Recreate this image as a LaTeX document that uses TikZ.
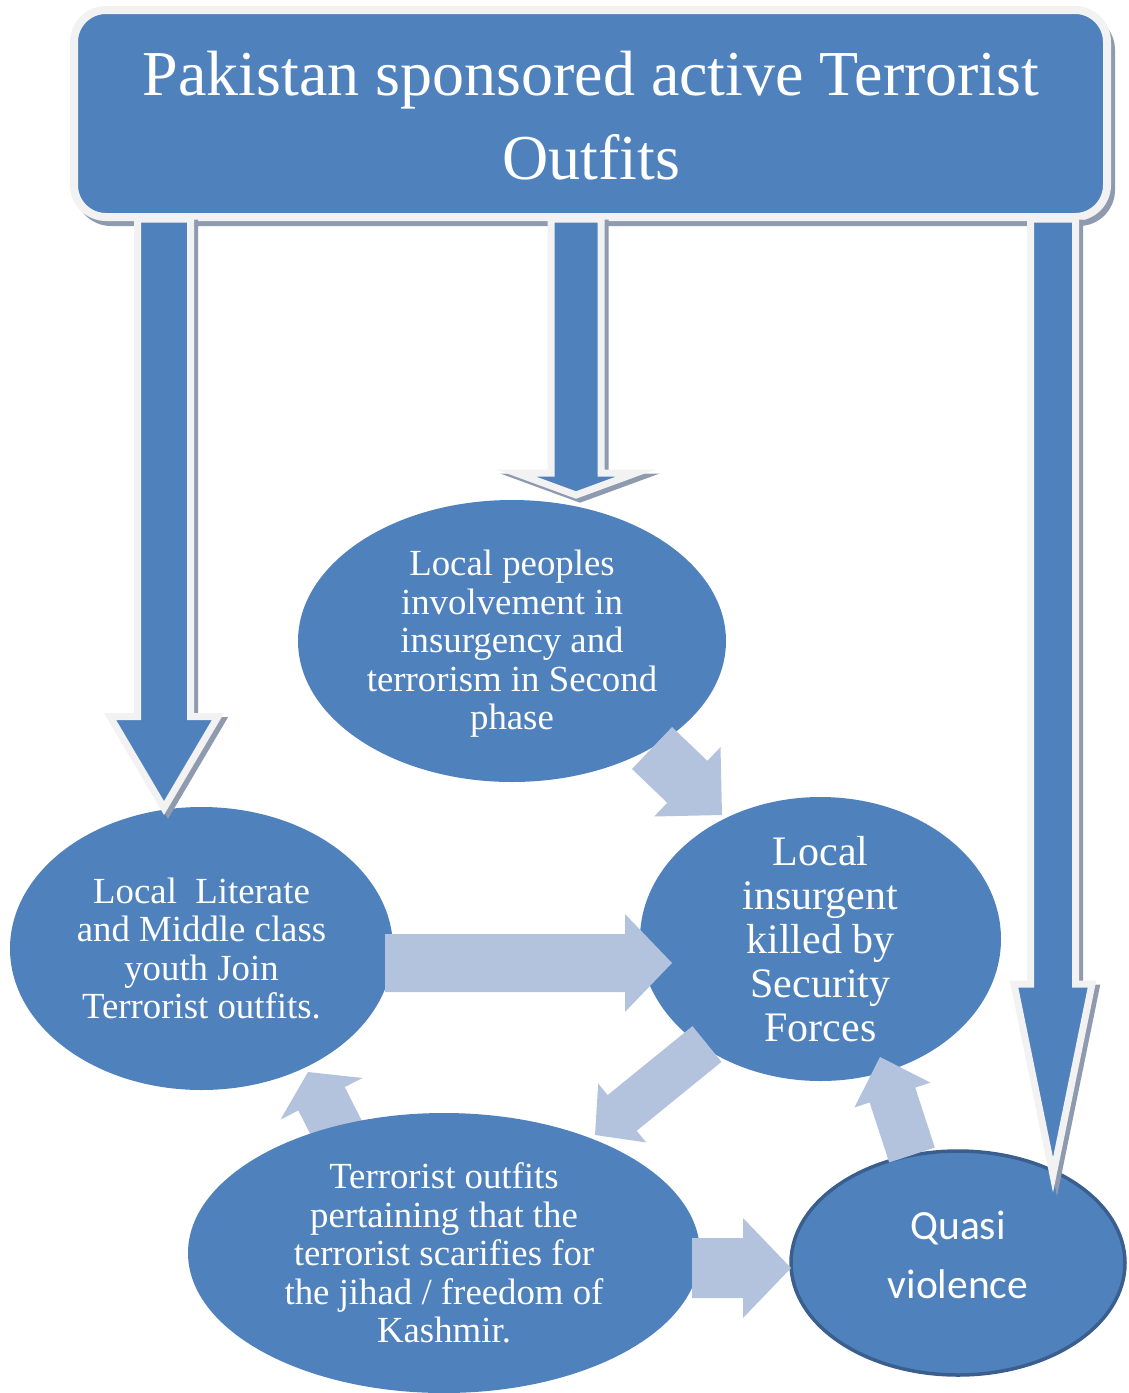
\documentclass[tikz,border=0pt]{standalone}
\usepackage{fontspec}
\setmainfont{Liberation Serif}
\newfontfamily\quasifont{Carlito}
\usetikzlibrary{calc,shapes.geometric}
\definecolor{boxblue}{HTML}{4F81BD}
\definecolor{lightarr}{HTML}{B3C3DE}
\definecolor{rimgray}{HTML}{F2F2F2}
\definecolor{shadowgray}{HTML}{8E9BAE}
\definecolor{darkrim}{HTML}{3A5F8F}
% block arrow: tail, tip, shaft half width, head half width, head length, style
\newcommand{\blockarr}[6]{%
  \coordinate (#2-hb) at ($(#2)!#5!(#1)$);
  \path[#6] ($(#1)!#3!90:(#2)$) -- ($(#2-hb)!#3!90:(#2)$) -- ($(#2-hb)!#4!90:(#2)$)
    -- (#2) -- ($(#2-hb)!#4!-90:(#2)$) -- ($(#2-hb)!#3!-90:(#2)$) -- ($(#1)!#3!-90:(#2)$) -- cycle;
}
\begin{document}
\begin{tikzpicture}[x=1pt,y=-1pt,
  bubble/.style={ellipse, fill=boxblue, draw=none, inner sep=0pt},
  quasibubble/.style={ellipse, fill=boxblue, draw=darkrim, line width=3.5pt, inner sep=0pt},
  ovaltext/.style={text=white, align=center, inner sep=0pt, font=\fontsize{36.8}{38.5}\selectfont},
  bigovaltext/.style={text=white, align=center, inner sep=0pt, font=\fontsize{42}{44}\selectfont},
  quasitext/.style={text=white, align=center, inner sep=0pt, font=\quasifont\fontsize{41.5}{59}\selectfont},
  titlebox/.style={rectangle, rounded corners=32pt, fill=boxblue, draw=rimgray, line width=8pt, inner sep=0pt},
  boxshadow/.style={fill=shadowgray, rounded corners=36pt},
  titletext/.style={text=white, align=center, inner sep=0pt, font=\fontsize{64}{84}\selectfont},
  bigarrow/.style={fill=boxblue, draw=rimgray, line width=7pt, line join=miter},
  bigshadow/.style={fill=shadowgray, draw=shadowgray, line width=7pt, line join=miter},
  lightarrow/.style={fill=lightarr, draw=none}
]
\useasboundingbox (0,0) rectangle (1128,1393);

% arrow from the bottom ellipse back to the left one (its tail lies under the ellipse)
\coordinate (ea) at (348,1151);  \coordinate (eb) at (308,1072);
\blockarr{ea}{eb}{26pt}{46pt}{30pt}{lightarrow}

% ellipses
\node[bubble, minimum width=428pt, minimum height=282pt] (e1) at (512,641) {};
\node[bubble, minimum width=383pt, minimum height=283pt] (e2) at (201.5,948.5) {};
\node[bubble, minimum width=361pt, minimum height=284pt] (e3) at (820.5,939) {};
\node[bubble, minimum width=512pt, minimum height=280pt] (e4) at (444,1253) {};
\node[quasibubble, minimum width=334pt, minimum height=224pt] (e5) at (958,1263) {};

% title box with its shadow
\fill[boxshadow] (75,14) rectangle (1115,226);
\node[titlebox, minimum width=1033pt, minimum height=207pt] (title) at (590.5,113.5) {};

% big arrows from the title box
\coordinate (La) at (164,219);
\coordinate (Lb) at (164,808);
\coordinate (Ma) at (576,219);
\coordinate (Mb) at (576,495);
\coordinate (Ra) at (1053,219);
\coordinate (Rb) at (1053,1175);
\begin{scope}[transform canvas={shift={(4pt,-4pt)}}]
  \blockarr{La}{Lb}{26.5pt}{54pt}{91.5pt}{bigshadow}
  \blockarr{Ma}{Mb}{25pt}{60pt}{22pt}{bigshadow}
  \blockarr{Ra}{Rb}{22.5pt}{39pt}{191pt}{bigshadow}
\end{scope}
\blockarr{La}{Lb}{26.5pt}{54pt}{91.5pt}{bigarrow}
\blockarr{Ma}{Mb}{25pt}{60pt}{22pt}{bigarrow}
\blockarr{Ra}{Rb}{22.5pt}{39pt}{191pt}{bigarrow}

% light arrows between ellipses
\coordinate (aa) at (652,748);   \coordinate (ab) at (722,815);
\coordinate (ba) at (385,963);   \coordinate (bb) at (672,963);
\coordinate (ca) at (707,1044);  \coordinate (cb) at (595,1135);
\coordinate (da) at (912,1155);  \coordinate (db) at (880,1057);
\coordinate (fa) at (692,1268);  \coordinate (fb) at (791,1268);
\blockarr{aa}{ab}{29pt}{48pt}{48pt}{lightarrow}
\blockarr{ba}{bb}{29pt}{49pt}{47pt}{lightarrow}
\blockarr{ca}{cb}{23pt}{38pt}{35pt}{lightarrow}
\blockarr{da}{db}{24pt}{40pt}{40pt}{lightarrow}
\blockarr{fa}{fb}{30pt}{50pt}{48pt}{lightarrow}

% texts
\node[titletext] (tt) at (591,116) {Pakistan sponsored active Terrorist\\Outfits};
\node[ovaltext] (t1) at (512,644) {Local peoples\\involvement in\\insurgency and\\terrorism in Second\\phase};
\node[ovaltext] (t2) at (e2.center) {Local\ \ Literate\\and Middle class\\youth Join\\Terrorist outfits.};
\node[bigovaltext] (t3) at (e3.center) {Local\\insurgent\\killed by\\Security\\Forces};
\node[ovaltext] (t4) at (e4.center) {Terrorist outfits\\pertaining that the\\terrorist scarifies for\\the jihad / freedom of\\Kashmir.};
\node[quasitext] (t5) at (958,1255) {Quasi\\violence};
\end{tikzpicture}
\end{document}
